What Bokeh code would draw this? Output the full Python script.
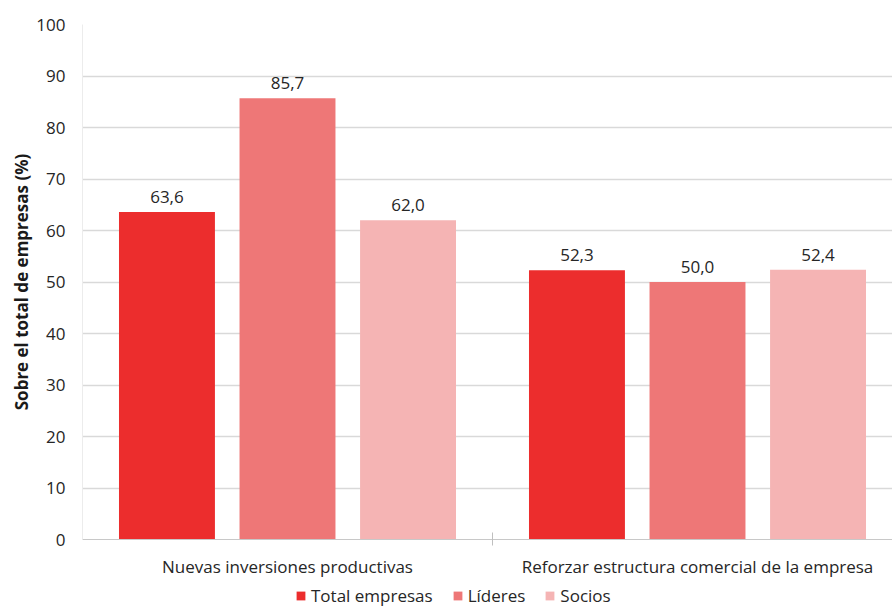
from bokeh.plotting import figure
from bokeh.layouts import column
from bokeh.models import ColumnDataSource, FixedTicker, Legend, LegendItem, Range1d, LabelSet
from bokeh.core.properties import value
from bokeh.embed import file_html
from bokeh.resources import INLINE

categories = ["Nuevas inversiones productivas", "Reforzar estructura comercial de la empresa"]
series = ["Total empresas", "Líderes", "Socios"]
total_empresas = [63.6, 52.3]
lideres = [85.7, 50.0]
socios = [62.0, 52.4]
y_ticks = [0, 10, 20, 30, 40, 50, 60, 70, 80, 90, 100]

colors = ["#ec2d2d", "#ee7777", "#f5b4b4"]
offsets = [-0.294, 0.0, 0.294]
bar_w = 0.234
FONT = "Open Sans"
TXT = "#262626"

W, H = 892, 580
LEFT, TOP, FRAME_H = 82, 24, 517
p = figure(width=W, height=H, output_backend="svg", toolbar_location=None,
           x_range=Range1d(-0.5, -0.5 + (W - LEFT) / 410), y_range=Range1d(0, 100),
           min_border_left=LEFT, min_border_right=0, min_border_top=TOP,
           min_border_bottom=H - TOP - FRAME_H)
p.outline_line_color = None

all_vals = [total_empresas, lideres, socios]
for vals, off, col in zip(all_vals, offsets, colors):
    xs = [i + off for i in range(len(categories))]
    src = ColumnDataSource(dict(x=xs, top=vals, lab=[f"{v:.1f}".replace(".", ",") for v in vals]))
    p.vbar(x="x", top="top", width=bar_w, source=src, fill_color=col, line_color=None)
    p.add_layout(LabelSet(x="x", y="top", text="lab", source=src, text_align="center",
                          text_baseline="bottom", y_offset=9, text_font=value(FONT),
                          text_font_size="17px", text_color=TXT))

# axes
p.xaxis.ticker = FixedTicker(ticks=[0, 1], minor_ticks=[0.5])
p.xaxis.major_label_overrides = {0: categories[0], 1: categories[1]}
p.xaxis.major_tick_line_color = None
p.xaxis.minor_tick_in = 7
p.xaxis.minor_tick_out = 6
p.xaxis.minor_tick_line_color = "#bfbfbf"
p.xaxis.axis_line_color = "#c8c8c8"
p.xaxis.major_label_text_font = FONT
p.xaxis.major_label_text_font_size = "17px"
p.xaxis.major_label_text_color = TXT
p.xaxis.major_label_standoff = 9

p.yaxis.ticker = FixedTicker(ticks=y_ticks)
p.yaxis.minor_tick_line_color = None
p.yaxis.major_tick_line_color = None
p.yaxis.major_tick_in = 0
p.yaxis.major_tick_out = 0
p.yaxis.minor_tick_in = 0
p.yaxis.minor_tick_out = 0
p.yaxis.axis_line_color = "#ececec"
p.yaxis.major_label_text_font = FONT
p.yaxis.major_label_text_font_size = "17px"
p.yaxis.major_label_text_color = TXT
p.yaxis.major_label_standoff = 17
p.yaxis.axis_label = "Sobre el total de empresas (%)"
p.yaxis.axis_label_text_font = FONT
p.yaxis.axis_label_text_font_size = "17px"
p.yaxis.axis_label_text_font_style = "bold"
p.yaxis.axis_label_text_color = "#1a1a1a"
p.yaxis.axis_label_standoff = 0

p.xgrid.grid_line_color = None
p.ygrid.grid_line_color = "#d9d9d9"
p.ygrid.grid_line_width = 1.3

# legend strip below the chart
lf = figure(width=W, height=28, output_backend="svg", toolbar_location=None,
            x_range=Range1d(0, 1), y_range=Range1d(0, 1),
            x_axis_location=None, y_axis_location=None,
            min_border_left=0, min_border_right=0, min_border_top=0, min_border_bottom=0)
lf.outline_line_color = None
lf.grid.visible = False
proxies = []
for vals, col in zip(all_vals, colors):
    r = lf.vbar(x=list(range(len(categories))), top=vals, width=0.1,
                fill_color=col, line_color=None)
    r.visible = False
    proxies.append(r)
legend = Legend(items=[LegendItem(label=s, renderers=[r]) for s, r in zip(series, proxies)],
                orientation="horizontal", location=(213, 1),
                glyph_width=11, glyph_height=11, label_standoff=5, spacing=19,
                label_text_font=FONT, label_text_font_size="17px", label_text_color=TXT,
                background_fill_alpha=0, border_line_color=None, padding=0, margin=0)
lf.add_layout(legend, "center")

layout = column(p, lf, spacing=0)
open("out.html", "w").write(file_html(layout, INLINE))
